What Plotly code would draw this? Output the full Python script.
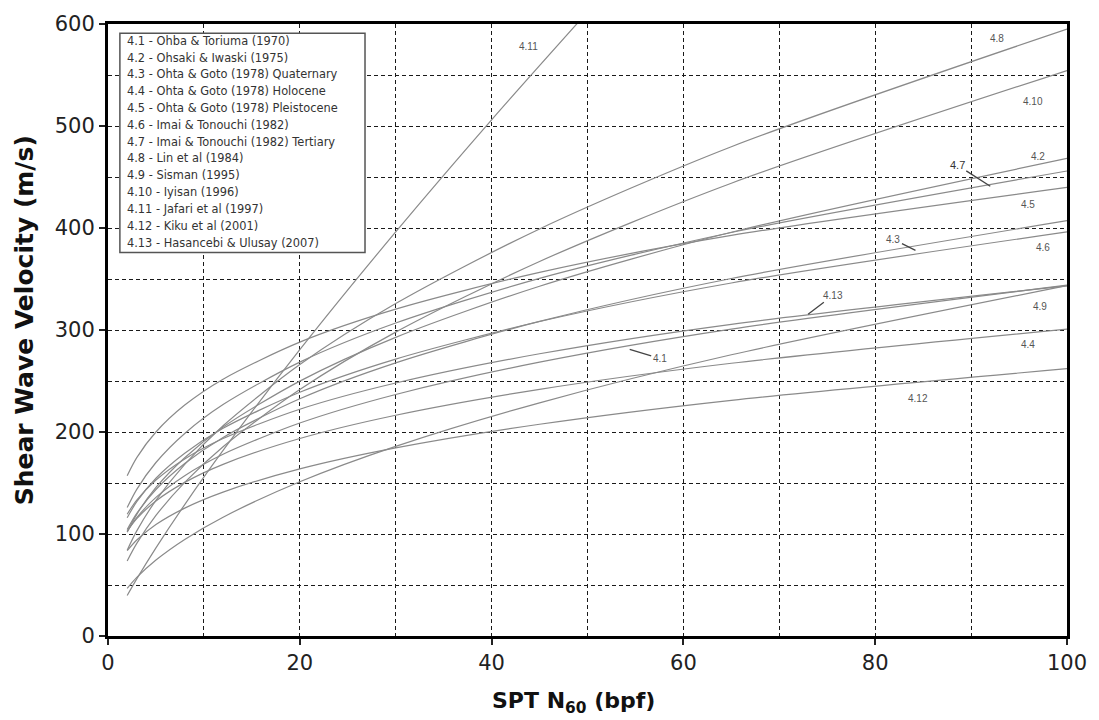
import plotly.graph_objects as go

# ---------------- data ----------------
n_spt = [2, 3, 5, 8, 12, 20, 30, 45, 65, 100]
n_spt_4_11 = [2, 3, 5, 8, 12, 20, 30, 40, 50]

vs_4_1 = [102.3, 116.0, 135.9, 157.2, 178.2, 208.8, 236.8, 268.5, 300.9, 343.9]
vs_4_2 = [101.8, 119.3, 145.6, 174.8, 204.8, 249.9, 292.8, 342.9, 395.8, 468.2]
vs_4_3 = [104.4, 120.2, 143.6, 169.1, 194.7, 232.6, 267.8, 308.4, 350.5, 407.2]
vs_4_4 = [103.0, 115.1, 132.4, 150.6, 168.3, 193.6, 216.4, 241.8, 267.4, 300.9]
vs_4_5 = [157.2, 174.9, 200.0, 226.4, 251.8, 288.1, 320.4, 356.5, 392.7, 439.8]
vs_4_6 = [116.0, 131.7, 154.7, 179.2, 203.6, 239.0, 271.5, 308.3, 346.1, 396.2]
vs_4_7 = [125.9, 143.8, 170.1, 198.6, 226.9, 268.5, 306.8, 350.6, 395.6, 455.9]
vs_4_8 = [84.1, 103.1, 133.0, 168.3, 206.1, 266.1, 325.9, 399.1, 479.7, 595.0]
vs_4_9 = [46.7, 57.4, 74.5, 94.7, 116.5, 151.2, 185.9, 228.6, 275.7, 343.5]
vs_4_10 = [73.6, 90.8, 118.2, 150.6, 185.6, 241.6, 297.9, 367.2, 443.9, 554.4]
vs_4_11 = [39.7, 56.0, 86.4, 128.8, 181.9, 280.7, 396.2, 506.1, 611.8]
vs_4_12 = [83.6, 94.1, 109.3, 125.4, 141.1, 163.8, 184.4, 207.6, 231.1, 262.1]
vs_4_13 = [119.4, 133.2, 152.9, 173.6, 193.6, 222.3, 248.0, 276.7, 305.6, 343.3]

curve_ids = ["4.1", "4.2", "4.3", "4.4", "4.5", "4.6", "4.7",
             "4.8", "4.9", "4.10", "4.11", "4.12", "4.13"]

legend_labels = [
    "4.1 - Ohba & Toriuma (1970)",
    "4.2 - Ohsaki & Iwaski (1975)",
    "4.3 - Ohta & Goto (1978) Quaternary",
    "4.4 - Ohta & Goto (1978) Holocene",
    "4.5 - Ohta & Goto (1978) Pleistocene",
    "4.6 - Imai & Tonouchi (1982)",
    "4.7 - Imai & Tonouchi (1982) Tertiary",
    "4.8 - Lin et al (1984)",
    "4.9 - Sisman (1995)",
    "4.10 - Iyisan (1996)",
    "4.11 - Jafari et al (1997)",
    "4.12 - Kiku et al (2001)",
    "4.13 - Hasancebi & Ulusay (2007)",
]

x_ticks = [0, 20, 40, 60, 80, 100]
y_ticks = [0, 100, 200, 300, 400, 500, 600]

series = [
    (n_spt, vs_4_1), (n_spt, vs_4_2), (n_spt, vs_4_3), (n_spt, vs_4_4),
    (n_spt, vs_4_5), (n_spt, vs_4_6), (n_spt, vs_4_7), (n_spt, vs_4_8),
    (n_spt, vs_4_9), (n_spt, vs_4_10), (n_spt_4_11, vs_4_11),
    (n_spt, vs_4_12), (n_spt, vs_4_13),
]

# ---------------- figure ----------------
fig = go.Figure()
for cid, (xs, ys) in zip(curve_ids, series):
    fig.add_trace(go.Scatter(
        x=xs, y=ys, mode="lines", name=cid,
        line=dict(color="#8a8a8a", width=1.2, shape="spline", smoothing=0.8),
        showlegend=False, hoverinfo="skip",
    ))

label_font = dict(family="Liberation Sans, Arial", size=10, color="#555555")

# plain curve labels (placement only)
plain_label_pos = {
    "4.11": (43.8, 578), "4.8": (92.7, 586), "4.10": (96.5, 524),
    "4.2": (97.0, 470), "4.5": (95.9, 423), "4.6": (97.5, 381),
    "4.9": (97.2, 323), "4.4": (95.9, 286), "4.12": (84.5, 233),
}
for txt, (px, py) in plain_label_pos.items():
    fig.add_annotation(x=px, y=py, text=txt, showarrow=False, font=label_font,
                       xanchor="center", yanchor="middle")

# labels with leader lines: (point on curve, text offset in px)
arrow_label_pos = {
    "4.7": (92.0, 441, -33, -21),
    "4.3": (84.2, 378, -22, -11),
    "4.13": (73.0, 315.5, 25, -19),
    "4.1": (54.4, 281, 30, 9),
}
for txt, (px, py, ax, ay) in arrow_label_pos.items():
    f = dict(label_font)
    if txt == "4.7":
        f = dict(family="Liberation Sans, Arial", size=11, color="#333333")
    fig.add_annotation(x=px, y=py, text=txt, showarrow=True, arrowhead=0,
                       arrowwidth=1.3, arrowcolor="#444444", ax=ax, ay=ay,
                       font=f, standoff=0, startstandoff=0)

# legend box
fig.add_shape(type="rect", xref="x", yref="y", x0=1.24, x1=26.8, y0=376, y1=591,
              line=dict(color="#555555", width=1.5), fillcolor="white", layer="above")
for i, lab in enumerate(legend_labels):
    fig.add_annotation(x=1.76, y=583.6 - 16.49 * i, text=lab, showarrow=False,
                       xanchor="left", yanchor="middle",
                       font=dict(family="DejaVu Sans", size=11.4, color="#333333"))

# axis titles
fig.add_annotation(xref="paper", yref="paper", x=0.4855, y=-0.1088,
                   text="<b>SPT N<sub>60</sub> (bpf)</b>", showarrow=False,
                   xanchor="center", yanchor="middle",
                   font=dict(family="DejaVu Sans", size=22, color="#111111"))
fig.add_annotation(xref="paper", yref="paper", x=-0.0875, y=0.516,
                   text="<b>Shear Wave Velocity (m/s)</b>", showarrow=False,
                   textangle=-90, xanchor="center", yanchor="middle",
                   font=dict(family="DejaVu Sans", size=25, color="#111111"))

grid_common = dict(gridcolor="#1a1a1a", gridwidth=1.3, griddash="4px,3px")

fig.update_xaxes(
    range=[0, 100], tickmode="array", tickvals=x_ticks,
    ticks="outside", ticklen=6, tickwidth=1.5, tickcolor="#222222",
    showline=True, linecolor="black", linewidth=3, mirror=True,
    showgrid=True, **grid_common,
    minor=dict(dtick=10, tick0=0, showgrid=True, ticks="", **grid_common),
    tickfont=dict(family="DejaVu Sans", size=21, color="#222222"),
    zeroline=False,
)
fig.update_yaxes(
    range=[0, 600], tickmode="array", tickvals=y_ticks,
    ticks="outside", ticklen=6, tickwidth=1.5, tickcolor="#222222",
    showline=True, linecolor="black", linewidth=3, mirror=True,
    showgrid=True, **grid_common,
    minor=dict(dtick=50, tick0=0, showgrid=True, ticks="", **grid_common),
    tickfont=dict(family="DejaVu Sans", size=21, color="#222222"),
    zeroline=False,
)

fig.update_layout(
    width=1099, height=720,
    margin=dict(l=108, r=23, t=18, b=84),
    plot_bgcolor="white", paper_bgcolor="white",
    showlegend=False,
)

fig.write_html(
    "out.html",
    config={"displayModeBar": False},
    post_script="document.body.style.margin='0px';document.body.style.padding='0px';",
)
